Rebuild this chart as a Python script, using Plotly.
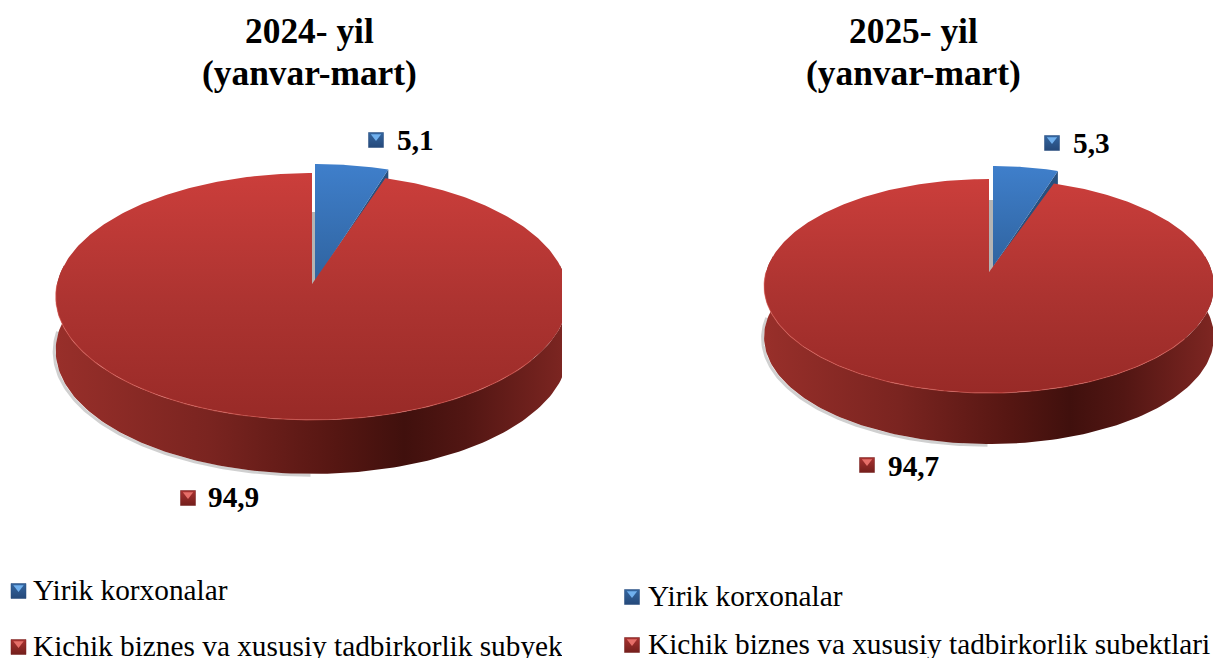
import numpy as np
import plotly.graph_objects as go

categories = ["Yirik korxonalar", "Kichik biznes va xususiy tadbirkorlik subyektlari"]
categories_2025 = ["Yirik korxonalar", "Kichik biznes va xususiy tadbirkorlik subektlari"]
titles_2024 = ["2024- yil", "(yanvar-mart)"]
titles_2025 = ["2025- yil", "(yanvar-mart)"]
values_2024 = [5.1, 94.9]
values_2025 = [5.3, 94.7]

FONT = "Liberation Serif"
BLUE_TOP = [[0, "#2f639f"], [1, "#3f7fcb"]]
RED_TOP = [[0, "#982a27"], [0.5, "#ae3431"], [1, "#cb3e3b"]]
RED_SIDE = [[0, "#982f2a"], [0.3, "#7a2420"], [0.55, "#551612"], [0.68, "#40100d"], [0.8, "#521613"], [1, "#7e2622"]]
BLUE_BULLET = ("#34659f", "#25497a", "#70b0ee")
RED_BULLET = ("#a83230", "#741f1c", "#e66f69")


def rim(th, ax, ay, R, H, k):
    """Perspective projection of a circle: th is clockwise from 12 o'clock."""
    s = 1 / (1 + k * np.cos(th))
    return ax + R * np.sin(th) * s, ay - H * np.cos(th) * s


def poly(fig, x, y, xa, fill=None, grad=None, gtype="vertical", line=None, lw=0):
    kw = dict(fill="toself") if (fill or grad) else {}
    if fill:
        kw["fillcolor"] = fill
    if grad:
        kw["fillgradient"] = dict(type=gtype, colorscale=grad)
    fig.add_trace(go.Scatter(
        x=x, y=y, mode="lines", xaxis=xa, yaxis="y", showlegend=False, hoverinfo="skip",
        line=dict(color=line or "rgba(0,0,0,0)", width=lw), **kw))


def bullet(fig, x, y, xa, colors):
    body, dark, light = colors
    fig.add_trace(go.Scatter(x=[x], y=[y], mode="markers", xaxis=xa, yaxis="y", showlegend=False,
                             hoverinfo="skip",
                             marker=dict(symbol="square", size=15, color=body,
                                         gradient=dict(type="vertical", color=dark),
                                         line=dict(color=dark, width=0.5))))
    fig.add_trace(go.Scatter(x=[x], y=[y - 3.5], mode="markers", xaxis=xa, yaxis="y", showlegend=False,
                             hoverinfo="skip",
                             marker=dict(symbol="triangle-down", size=9, color=light)))


def label(fig, x, y, text, xa, size, bold=False):
    fig.add_trace(go.Scatter(x=[x], y=[y], mode="text", xaxis=xa, yaxis="y", showlegend=False,
                             hoverinfo="skip", text=[f"<b>{text}</b>" if bold else text],
                             textposition="middle right",
                             textfont=dict(family=FONT, size=size, color="#000000")))


def pie(fig, vals, xa, ax, ay, R, H, k, depth, dx, dy, lift):
    blue_end = 2 * np.pi * vals[0] / sum(vals)
    # soft shadow on the lower left
    th_s = np.linspace(np.pi * 1.0, np.pi * 1.52, 120)
    sx, sy = rim(th_s, ax, ay, R, H, k)
    poly(fig, sx - 1.5, sy + depth + 1.2, xa, line="rgba(120,120,120,0.35)", lw=3)
    # side wall
    th = np.linspace(np.pi * 0.45, np.pi * 1.55, 160)
    fx, fy = rim(th, ax, ay, R, H, k)
    poly(fig, np.r_[fx, fx[::-1]], np.r_[fy, fy[::-1] + depth], xa, grad=RED_SIDE, gtype="horizontal")
    # inner wall of the notch
    poly(fig, [ax, ax + dx, ax + dx, ax], [ay - 72, ay - 72, ay + dy, ay], xa, fill="#b4b4b4")
    # exploded blue wedge: side then top
    bx, by = ax + dx, ay + dy
    th_b = np.linspace(0, blue_end, 40)
    rx, ry = rim(th_b, bx, by, R, H * lift, k)
    poly(fig, [bx, rx[-1], rx[-1], bx], [by, ry[-1], ry[-1] + 14, by + 4], xa, fill="#27507f")
    poly(fig, np.r_[bx, rx], np.r_[by, ry], xa, grad=BLUE_TOP)
    # red top face
    th_r = np.linspace(blue_end, 2 * np.pi, 400)
    qx, qy = rim(th_r, ax, ay, R, H, k)
    poly(fig, np.r_[ax, qx], np.r_[ay, qy], xa, grad=RED_TOP)
    # highlight on the front rim
    th_h = np.linspace(np.pi * 0.7, np.pi * 1.5, 160)
    hx, hy = rim(th_h, ax, ay, R, H, k)
    poly(fig, hx, hy, xa, line="rgba(226,96,90,0.55)", lw=1.1)


fig = go.Figure()

# 2024
pie(fig, values_2024, "x", 312, 284, 255, 122.2, 0.101, 54, 3, -2, 1.063)
bullet(fig, 376, 140, "x", BLUE_BULLET)
label(fig, 397, 143, f"{values_2024[0]:.1f}".replace(".", ","), "x", 29.3, True)
bullet(fig, 188, 498, "x", RED_BULLET)
label(fig, 208, 500, f"{values_2024[1]:.1f}".replace(".", ","), "x", 29.3, True)
bullet(fig, 18.5, 591, "x", BLUE_BULLET)
label(fig, 33, 593, categories[0], "x", 29.3)
bullet(fig, 18.5, 647, "x", RED_BULLET)
label(fig, 33, 649, categories[1], "x", 29.3)

# 2025
pie(fig, values_2025, "x2", 989, 272, 223, 105.2, 0.131, 51, 4, -5, 1.086)
bullet(fig, 1052, 143, "x2", BLUE_BULLET)
label(fig, 1073, 146, f"{values_2025[0]:.1f}".replace(".", ","), "x2", 29.3, True)
bullet(fig, 867, 465, "x2", RED_BULLET)
label(fig, 888, 469, f"{values_2025[1]:.1f}".replace(".", ","), "x2", 29.3, True)
bullet(fig, 632, 597, "x2", BLUE_BULLET)
label(fig, 648, 599, categories_2025[0], "x2", 29.3)
bullet(fig, 632, 645, "x2", RED_BULLET)
label(fig, 648, 647, categories_2025[1], "x2", 29.3)

hidden = dict(visible=False, fixedrange=True)
title_font = dict(family=FONT, size=35.4, color="#000000")
annotations = []
for xref, xc, lines in (("x", 309, titles_2024), ("x2", 913, titles_2025)):
    for yc, line in zip((31, 73), lines):
        annotations.append(dict(x=xc, y=yc, xref=xref, yref="y", text=f"<b>{line}</b>",
                                showarrow=False, font=title_font))

fig.update_layout(
    width=1213, height=658, margin=dict(l=0, r=0, t=0, b=0),
    paper_bgcolor="white", plot_bgcolor="white", showlegend=False,
    xaxis=dict(domain=[0, 562 / 1213], range=[0, 562], **hidden),
    xaxis2=dict(domain=[562 / 1213, 1], range=[562, 1213], **hidden),
    yaxis=dict(domain=[0, 1], range=[658, 0], **hidden),
    annotations=annotations,
)

fig.write_html("out.html", config=dict(displayModeBar=False),
               post_script="document.body.style.margin='0';document.body.style.overflow='hidden';")
